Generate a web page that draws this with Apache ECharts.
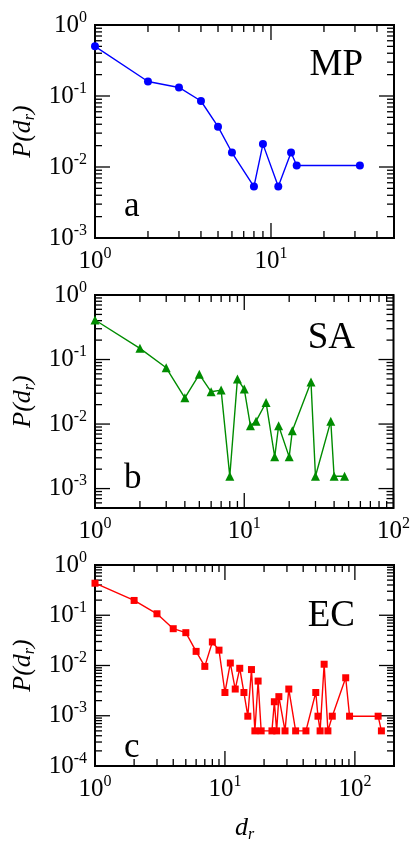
<!DOCTYPE html>
<html>
<head>
<meta charset="utf-8">
<script src="https://cdn.jsdelivr.net/npm/echarts@6/dist/echarts.min.js"></script>
<style>
  html, body { margin: 0; padding: 0; background: #fff; }
  #chart { width: 413px; height: 844px; }
</style>
</head>
<body>
<div id="chart"></div>
<script>
// P(d_r) 三个面板的数据
const mpX = [1, 2, 3, 4, 5, 6, 8, 9, 11, 13, 14, 32]
const mpY = [0.5, 0.16, 0.132, 0.085, 0.037, 0.016, 0.0053, 0.021, 0.0053, 0.016, 0.0105, 0.0105]

const saX = [1, 2, 3, 4, 5, 6, 7, 8, 9, 10, 11, 12, 14, 16, 17, 20, 21, 28, 30, 38, 40, 47]
const saY = [0.41, 0.149, 0.0745, 0.0255, 0.059, 0.0316, 0.0336, 0.00155, 0.0497, 0.0348, 0.0094, 0.0111,
    0.0216, 0.0031, 0.0094, 0.0031, 0.0079, 0.045, 0.00155, 0.0111, 0.00155, 0.00155]

const ecX = [1, 2, 3, 4, 5, 6, 7, 8, 9, 10, 11, 12, 13, 14, 15, 16, 17, 18, 19, 23, 24, 25, 26, 29, 31,
    35, 42, 50, 52, 54, 58, 62, 67, 85, 91, 151, 160]
const ecY = [0.434, 0.197, 0.107, 0.054, 0.045, 0.0191, 0.0096, 0.0294, 0.0202, 0.0029, 0.0112, 0.0034,
    0.0088, 0.0029, 0.00098, 0.0083, 0.0005, 0.0049, 0.0005, 0.0005, 0.0019, 0.0005, 0.0024, 0.0005,
    0.0034, 0.0005, 0.0005, 0.0029, 0.00098, 0.0005, 0.0106, 0.0005, 0.00098, 0.0057, 0.00098, 0.00098, 0.0005]

const xRanges = [[1, 50], [1, 100], [1, 200]]
const yRanges = [[0.001, 1], [0.0005, 1], [0.0001, 1]]

const FONT = '"Liberation Serif", "DejaVu Serif", serif'
const gridTops = [25, 295, 565]
const GRID_H = 213

const chart = echarts.init(document.getElementById('chart'))

const powLabel = (v) => {
    const e = Math.log10(v)
    const r = Math.round(e)
    if (Math.abs(e - r) > 1e-6) return ''
    return '{b|10}{sup|' + r + '}'
}

const labelRich = {
    b: { fontFamily: FONT, fontSize: 25, color: '#000' },
    sup: { fontFamily: FONT, fontSize: 16, color: '#000', padding: [0, 0, 15, 0] }
}

const nameRich = {
    i: { fontFamily: FONT, fontStyle: 'italic', fontSize: 26, color: '#000' },
    s: { fontFamily: FONT, fontStyle: 'italic', fontSize: 16, color: '#000', padding: [13, 0, 0, 0] }
}

// 对数刻度: 1..9 × 10^k
const logTicks = (range) => {
    const out = []
    const d0 = Math.floor(Math.log10(range[0]) + 1e-9)
    const d1 = Math.ceil(Math.log10(range[1]) - 1e-9)
    for (let d = d0; d <= d1; d++) {
        for (let k = 1; k <= 9; k++) {
            const v = k * Math.pow(10, d)
            if (v >= range[0] * (1 - 1e-9) && v <= range[1] * (1 + 1e-9)) out.push({ v: v, major: k === 1 })
        }
    }
    return out
}

const tickSeries = (i) => {
    const xr = xRanges[i]
    const yr = yRanges[i]
    return {
        type: 'custom',
        xAxisIndex: i,
        yAxisIndex: i,
        silent: true,
        clip: false,
        z: 1,
        data: [[xr[0], yr[0]]],
        renderItem: (params, api) => {
            const bl = api.coord([xr[0], yr[0]])
            const tr = api.coord([xr[1], yr[1]])
            const style = { stroke: '#000', lineWidth: 1.3 }
            const kids = []
            logTicks(xr).forEach(t => {
                const px = api.coord([t.v, yr[0]])[0]
                const len = t.major ? 15 : 7
                kids.push({ type: 'line', shape: { x1: px, y1: bl[1], x2: px, y2: bl[1] - len }, style: style })
                kids.push({ type: 'line', shape: { x1: px, y1: tr[1], x2: px, y2: tr[1] + len }, style: style })
            })
            logTicks(yr).forEach(t => {
                const py = api.coord([xr[0], t.v])[1]
                const len = t.major ? 15 : 7
                kids.push({ type: 'line', shape: { x1: bl[0], y1: py, x2: bl[0] + len, y2: py }, style: style })
                kids.push({ type: 'line', shape: { x1: tr[0], y1: py, x2: tr[0] - len, y2: py }, style: style })
            })
            return { type: 'group', children: kids }
        }
    }
}

const lineSeries = (i, xs, ys, color, symbol, size) => ({
    type: 'line',
    xAxisIndex: i,
    yAxisIndex: i,
    data: xs.map((x, j) => [x, ys[j]]),
    symbol: symbol,
    symbolSize: size,
    showSymbol: true,
    clip: false,
    z: 3,
    lineStyle: { color: color, width: 1.4 },
    itemStyle: { color: color }
})

const axisLabel = {
    margin: 8,
    formatter: powLabel,
    fontFamily: FONT,
    fontSize: 25,
    color: '#000',
    rich: labelRich,
    showMinLabel: true,
    showMaxLabel: true,
    hideOverlap: false
}

const option = {
    animation: false,
    backgroundColor: '#fff',
    textStyle: { fontFamily: FONT },
    grid: gridTops.map(t => ({
        left: 95, right: 19, top: t, height: GRID_H,
        show: true, borderColor: '#000', borderWidth: 2, backgroundColor: 'transparent'
    })),
    xAxis: xRanges.map((r, i) => ({
        type: 'log',
        logBase: 10,
        gridIndex: i,
        min: r[0],
        max: r[1],
        axisLine: { show: false },
        axisTick: { show: false },
        splitLine: { show: false },
        axisLabel: axisLabel,
        name: i === 2 ? '{i|d}{s|r}' : '',
        nameLocation: 'middle',
        nameGap: 48,
        nameTextStyle: { fontFamily: FONT, fontStyle: 'italic', fontSize: 26, color: '#000', rich: nameRich }
    })),
    yAxis: yRanges.map((r, i) => ({
        type: 'log',
        logBase: 10,
        gridIndex: i,
        min: r[0],
        max: r[1],
        axisLine: { show: false },
        axisTick: { show: false },
        splitLine: { show: false },
        axisLabel: axisLabel,
        name: '{i|P(d}{s|r}{i|)}',
        nameLocation: 'middle',
        nameGap: 50,
        nameRotate: 90,
        nameTextStyle: { fontFamily: FONT, fontStyle: 'italic', fontSize: 26, color: '#000', rich: nameRich }
    })),
    graphic: [
        { type: 'text', x: 363, y: 65, style: { text: 'MP', font: '37px "Liberation Serif"', fill: '#000', textAlign: 'right', textVerticalAlign: 'middle' } },
        { type: 'text', x: 355, y: 338, style: { text: 'SA', font: '37px "Liberation Serif"', fill: '#000', textAlign: 'right', textVerticalAlign: 'middle' } },
        { type: 'text', x: 355, y: 616, style: { text: 'EC', font: '37px "Liberation Serif"', fill: '#000', textAlign: 'right', textVerticalAlign: 'middle' } },
        { type: 'text', x: 124, y: 207, style: { text: 'a', font: '35px "Liberation Serif"', fill: '#000', textAlign: 'left', textVerticalAlign: 'middle' } },
        { type: 'text', x: 124, y: 479, style: { text: 'b', font: '35px "Liberation Serif"', fill: '#000', textAlign: 'left', textVerticalAlign: 'middle' } },
        { type: 'text', x: 124, y: 748, style: { text: 'c', font: '35px "Liberation Serif"', fill: '#000', textAlign: 'left', textVerticalAlign: 'middle' } }
    ],
    series: [
        lineSeries(0, mpX, mpY, '#0000ff', 'circle', 8),
        lineSeries(1, saX, saY, '#008c00', 'triangle', 9),
        lineSeries(2, ecX, ecY, '#ff0000', 'rect', 7),
        tickSeries(0),
        tickSeries(1),
        tickSeries(2)
    ]
}

chart.setOption(option)
window.addEventListener('resize', () => chart.resize())
</script>
</body>
</html>
